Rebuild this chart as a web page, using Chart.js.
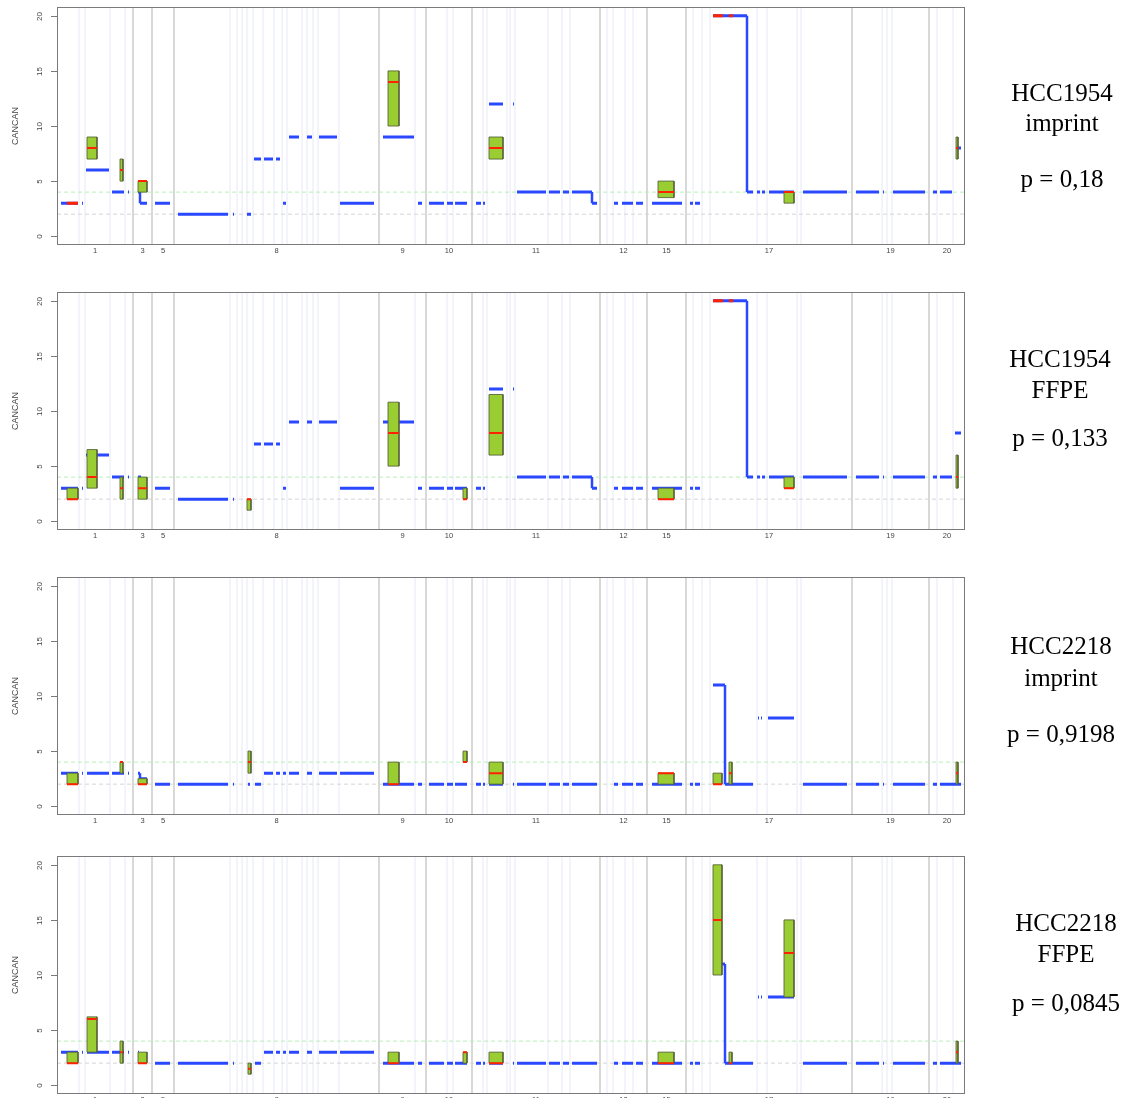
<!DOCTYPE html>
<html>
<head>
<meta charset="utf-8">
<script src="https://cdn.jsdelivr.net/npm/chart.js@4.4.0/dist/chart.umd.min.js"></script>
<style>
  body { margin: 0; background: #fff; width: 1124px; height: 1098px; overflow: hidden; position: relative; }
  canvas { position: absolute; left: 0; }
  .lbl { position: absolute; width: 200px; text-align: center; white-space: nowrap;
         font-family: "Liberation Serif", "Times New Roman", serif; font-size: 25px; line-height: 25px; color: #000; }
</style>
</head>
<body>
<canvas id="c1" width="975" height="270" style="top:0px"></canvas>
<canvas id="c2" width="975" height="270" style="top:285px"></canvas>
<canvas id="c3" width="975" height="270" style="top:570px"></canvas>
<canvas id="c4" width="975" height="270" style="top:849px"></canvas>
<script>
// axis ranges (genome index along x, copy number along y)
const X_MIN = 0, X_MAX = 908;
const Y_MIN = -0.8, Y_MAX = 20.8;
const yTicks = [0, 5, 10, 15, 20];

const chromLabels = ['1', '3', '5', '8', '9', '10', '11', '12', '15', '17', '19', '20'];
const chromStarts = [0, 76, 95, 117, 322, 369, 415, 543, 590, 629, 795, 872];
const armLines = [22, 28, 53, 68, 173, 180, 185, 190, 196, 206, 217, 225, 230, 245, 250, 256, 261, 282,
  358, 390, 396, 426, 430, 450, 453, 458, 491, 505, 513, 550, 556, 568, 576, 636, 645, 653,
  700, 710, 740, 744, 825, 830, 835, 880, 896];
const refLevels = [2, 4];

const sampleNames = ['HCC1954', 'HCC1954', 'HCC2218', 'HCC2218'];
const sampleTypes = ['imprint', 'FFPE', 'imprint', 'FFPE'];
const pValues = ['0,18', '0,133', '0,9198', '0,0845'];

// segments [x0, x1, level], drops [x, from, to], red marks [x0, x1, level], boxes [x0, x1, low, high, median]
const p1Segs = [[4,21,3],[25,26,3],[29,52,6],[55,67,4],[71,72,4],[81,83,4],[83,90,3],[98,113,3],[121,171,2],[176,177,2],[190,194,2],
  [197,204,7],[207,216,7],[219,223,7],[226,229,3],[232,242,9],[250,255,9],[262,280,9],[283,317,3],[326,357,9],
  [361,365,3],[372,387,3],[390,396,3],[398,410,3],[419,424,3],[426,428,3],[432,446,12],[456,457,12],
  [460,489,4],[492,503,4],[506,512,4],[515,535,4],[535,540,3],[557,561,3],[565,576,3],[579,586,3],[595,625,3],
  [633,636,3],[638,643,3],[656,690,20],[690,696,4],[700,703,4],[705,708,4],[712,737,4],[746,790,4],[799,822,4],
  [826,827,4],[836,868,4],[876,880,4],[883,895,4],[899,904,8]];
const p1Drops = [[83,4,3],[535,4,3],[690,20,4]];
const p1Red = [[10,21,3],[656,666,20],[672,676,20]];
const p1Boxes = [[30,40,7,9,8],[63,66,5,7,6],[81,90,4,5,5],[331,342,10,15,14],[432,446,7,9,8],[601,617,3.5,5,4],[727,737,3,4,4],[899,901,7,9,8]];

const p2Segs = [[4,21,3],[25,26,3],[29,52,6],[55,67,4],[71,72,4],[81,84,4],[98,113,3],[121,171,2],[176,177,2],
  [197,204,7],[207,216,7],[219,223,7],[226,229,3],[232,242,9],[250,255,9],[262,280,9],[283,317,3],[326,357,9],
  [361,365,3],[372,387,3],[390,396,3],[398,410,3],[419,424,3],[426,428,3],[432,446,12],[456,457,12],
  [460,489,4],[492,503,4],[506,512,4],[515,535,4],[535,540,3],[557,561,3],[565,576,3],[579,586,3],[595,625,3],
  [633,636,3],[638,643,3],[656,690,20],[690,696,4],[700,703,4],[705,708,4],[712,737,4],[746,790,4],[799,822,4],
  [826,827,4],[836,868,4],[876,880,4],[883,895,4],[898,904,8]];
const p2Drops = [[535,4,3],[690,20,4]];
const p2Red = [[656,666,20],[672,676,20]];
const p2Boxes = [[10,21,2,3,2],[30,40,3,6.5,4],[63,66,2,4,3],[81,90,2,4,3],[190,194,1,2,2],[331,342,5,10.8,8],[406,410,2,3,2],
  [432,446,6,11.5,8],[601,617,2,3,2],[727,737,3,4,3],[899,901,3,6,4]];

const p3Segs = [[4,21,3],[25,26,3],[30,52,3],[55,67,3],[71,72,3],[81,83,3],[83,90,2.5],[98,113,2],[121,171,2],[176,177,2],
  [191,193,2],[198,204,2],[207,216,3],[219,223,3],[226,229,3],[232,242,3],[250,255,3],[262,280,3],[283,317,3],
  [326,357,2],[361,365,2],[372,387,2],[390,396,2],[398,410,2],[419,424,2],[426,428,2],[432,446,2],[456,457,2],
  [460,489,2],[492,503,2],[506,512,2],[515,540,2],[557,561,2],[565,576,2],[579,586,2],[595,625,2],[633,636,2],
  [638,643,2],[656,668,11],[668,696,2],[701,702,8],[704,705,8],[711,737,8],[746,790,2],[799,822,2],[826,827,2],
  [836,868,2],[876,880,2],[883,904,2]];
const p3Drops = [[83,3,2.5],[668,11,2]];
const p3Red = [];
const p3Boxes = [[10,21,2,3,2],[63,66,3,4,4],[81,90,2,2.5,2],[191,194,3,5,4],[331,342,2,4,2],[406,410,4,5,4],[432,446,2,4,3],
  [601,617,2,3,3],[656,665,2,3,2],[672,675,2,4,3],[899,901,2,4,3]];

const p4Segs = [[4,21,3],[25,26,3],[30,52,3],[55,67,3],[71,72,3],[81,82,3],[98,113,2],[121,171,2],[176,177,2],
  [198,204,2],[207,216,3],[219,223,3],[226,229,3],[232,242,3],[250,255,3],[262,280,3],[283,317,3],
  [326,357,2],[361,365,2],[372,387,2],[390,396,2],[398,410,2],[419,424,2],[426,428,2],[432,446,2],[456,457,2],
  [460,489,2],[492,503,2],[506,512,2],[515,540,2],[557,561,2],[565,576,2],[579,586,2],[595,625,2],[633,636,2],
  [638,643,2],[656,668,11],[668,696,2],[701,702,8],[704,705,8],[711,737,8],[746,790,2],[799,822,2],[826,827,2],
  [836,868,2],[876,880,2],[883,904,2]];
const p4Drops = [[668,11,2]];
const p4Red = [];
const p4Boxes = [[10,21,2,3,2],[30,40,3,6.2,6],[63,66,2,4,3],[81,90,2,3,2],[191,194,1,2,1.5],[331,342,2,3,2],[406,410,2,3,3],
  [432,446,2,3,2],[601,617,2,3,2],[656,665,10,20,15],[672,675,2,3,2],[727,737,8,15,12],[899,901,2,4,3]];

const panels = [
  {id: 'c1', segs: p1Segs, drops: p1Drops, red: p1Red, boxes: p1Boxes},
  {id: 'c2', segs: p2Segs, drops: p2Drops, red: p2Red, boxes: p2Boxes},
  {id: 'c3', segs: p3Segs, drops: p3Drops, red: p3Red, boxes: p3Boxes},
  {id: 'c4', segs: p4Segs, drops: p4Drops, red: p4Red, boxes: p4Boxes}
];
// label block centres (x, name y, type y, p y)
const labelPos = [[1062, 92, 122, 178], [1060, 358, 389, 437], [1061, 645, 677, 733], [1066, 922, 953, 1002]];

const BLUE = '#2a48ff', RED = '#ff2200', GREEN = '#9acd32', BOXLINE = 'rgba(85,95,55,0.85)';

function segPoints(segs) {
  const pts = [];
  segs.forEach(s => pts.push({x: s[0], y: s[2]}, {x: s[1], y: s[2]}, {x: s[1], y: null}));
  return pts;
}
function dropPoints(drops) {
  const pts = [];
  drops.forEach(d => pts.push({x: d[0], y: d[1]}, {x: d[0], y: d[2]}, {x: d[0], y: null}));
  return pts;
}
function vPoints(xs) {
  const pts = [];
  xs.forEach(v => pts.push({x: v, y: Y_MIN}, {x: v, y: Y_MAX}, {x: v, y: null}));
  return pts;
}
function outlinePoints(boxes) {
  const pts = [];
  boxes.forEach(b => pts.push({x: b[0], y: b[2]}, {x: b[0], y: b[3]}, {x: b[1], y: b[3]}, {x: b[1], y: b[2]}, {x: b[0], y: b[2]}, {x: b[0], y: null}));
  return pts;
}
function lineSet(data, color, width, order, extra) {
  return Object.assign({data: data, borderColor: color, borderWidth: width, pointRadius: 0,
    fill: false, spanGaps: false, tension: 0, order: order}, extra || {});
}

const axisDeco = {
  id: 'axisDeco',
  afterDraw(chart) {
    const ctx = chart.ctx, a = chart.chartArea, x = chart.scales.x, y = chart.scales.y;
    ctx.save();
    ctx.strokeStyle = '#7a7a7a';
    ctx.lineWidth = 1;
    ctx.strokeRect(a.left + 0.5, a.top + 0.5, a.right - a.left - 1, a.bottom - a.top - 1);
    ctx.fillStyle = '#444';
    ctx.font = '8px "Liberation Sans", Arial, sans-serif';
    ctx.textAlign = 'center';
    ctx.textBaseline = 'middle';
    yTicks.forEach(v => {
      const py = Math.round(y.getPixelForValue(v)) + 0.5;
      ctx.beginPath();
      ctx.moveTo(a.left - 6, py);
      ctx.lineTo(a.left, py);
      ctx.stroke();
      ctx.save();
      ctx.translate(a.left - 17, py);
      ctx.rotate(-Math.PI / 2);
      ctx.fillText(String(v), 0, 0);
      ctx.restore();
    });
    ctx.font = '7.5px "Liberation Sans", Arial, sans-serif';
    chromLabels.forEach((t, i) => {
      const s = chromStarts[i];
      const e = i + 1 < chromStarts.length ? chromStarts[i + 1] : X_MAX;
      ctx.fillText(t, x.getPixelForValue((s + e) / 2), a.bottom + 6);
    });
    ctx.font = '9px "Liberation Sans", Arial, sans-serif';
    ctx.translate(16, (a.top + a.bottom) / 2);
    ctx.rotate(-Math.PI / 2);
    ctx.fillText('CANCAN', 0, 0);
    ctx.restore();
  }
};

panels.forEach((p, idx) => {
  const datasets = [
    lineSet(vPoints(armLines), '#e8e8fa', 1, 20),
    lineSet(vPoints(chromStarts.slice(1)), '#c8c8c8', 1.4, 19),
    lineSet(segPoints([[X_MIN, X_MAX, refLevels[0]]]), '#d6d6d6', 1, 18, {borderDash: [4, 3]}),
    lineSet(segPoints([[X_MIN, X_MAX, refLevels[1]]]), '#b6f0b6', 1, 18, {borderDash: [4, 3]}),
    lineSet(dropPoints(p.drops), BLUE, 2.5, 12),
    lineSet(segPoints(p.segs), BLUE, 3, 11),
    lineSet(segPoints(p.red), RED, 3, 10)
  ];
  p.boxes.forEach(b => {
    datasets.push(lineSet([{x: b[0], y: b[3]}, {x: b[1], y: b[3]}], 'rgba(0,0,0,0)', 0, 5,
      {fill: {value: b[2]}, backgroundColor: GREEN}));
  });
  datasets.push(lineSet(outlinePoints(p.boxes), BOXLINE, 1, 3));
  datasets.push(lineSet(segPoints(p.boxes.map(b => [b[0], b[1], b[4]])), RED, 2, 2));

  const ctx = document.getElementById(p.id).getContext('2d');
  new Chart(ctx, {
    type: 'line',
    data: {datasets: datasets},
    options: {
      responsive: false,
      animation: false,
      events: [],
      layout: {padding: {left: 57, right: 10, top: 7, bottom: 25}},
      scales: {
        x: {type: 'linear', min: X_MIN, max: X_MAX, display: false},
        y: {type: 'linear', min: Y_MIN, max: Y_MAX, display: false}
      },
      plugins: {legend: {display: false}, tooltip: {enabled: false}}
    },
    plugins: [axisDeco]
  });

  const pos = labelPos[idx];
  [sampleNames[idx], sampleTypes[idx], 'p = ' + pValues[idx]].forEach((t, j) => {
    const d = document.createElement('div');
    d.className = 'lbl';
    d.textContent = t;
    d.style.left = (pos[0] - 100) + 'px';
    d.style.top = (pos[j + 1] - 12.5) + 'px';
    document.body.appendChild(d);
  });
});
</script>
</body>
</html>
